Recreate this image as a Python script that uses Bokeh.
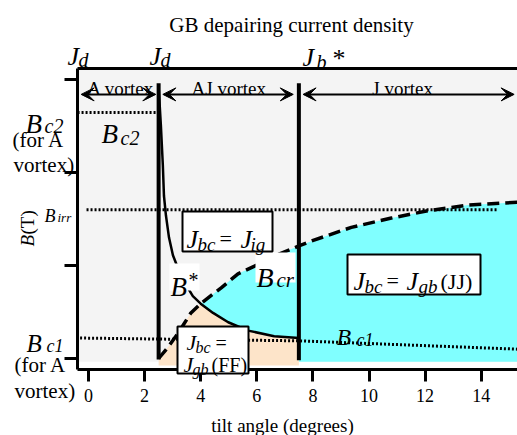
import numpy as np
from bokeh.plotting import figure
from bokeh.models import (Label, Arrow, VeeHead, BoxAnnotation, LinearAxis,
                          FixedTicker, CustomJSTickFormatter)
from bokeh.embed import file_html
from bokeh.resources import INLINE

# ---------------- data ----------------
xticks = [0, 2, 4, 6, 8, 10, 12, 14]
yticks = [0, 1, 2, 3]
boundaries = [2.5, 7.5]            # A/AJ and AJ/J vortex boundaries (degrees)
boundary_top = [2.96, 2.96]
regions = ["A vortex", "AJ vortex", "J vortex"]
region_center = [1.15, 5.0, 11.2]

# B* curve
bstar_x = [2.5, 2.58, 2.65, 2.69, 2.76, 2.87, 3.01, 3.19, 3.44, 3.72, 4.0,
           4.44, 4.98, 5.69, 6.62, 7.5]
bstar_y = [2.92, 2.51, 2.08, 1.75, 1.54, 1.30, 1.11, 0.97, 0.81, 0.67, 0.59,
           0.49, 0.39, 0.30, 0.24, 0.22]
# B_cr curve (dashed)
bcr_x = [2.5, 2.83, 3.19, 3.65, 4.0, 4.73, 5.33, 5.9, 6.69, 7.5, 8.01, 9.37,
         10.8, 12.12, 13.54, 15.33]
bcr_y = [0.0, 0.12, 0.27, 0.49, 0.59, 0.76, 0.91, 0.99, 1.11, 1.21, 1.27, 1.41,
         1.51, 1.59, 1.65, 1.68]
# dotted levels
bc1_x = [-0.3, 7.5, 15.33]
bc1_y = [0.22, 0.19, 0.10]
bc2_x = [-0.39, 2.45]
bc2_y = [2.645, 2.645]
birr_x = [-0.07, 14.6]
birr_y = [1.60, 1.60]
cyan_floor = -0.035
peach_floor = -0.075
arrow_level = 2.84

# plot-area extent (axes) and whole-canvas ranges
AX_X = (-0.392, 15.294)
AX_Y = (-0.118, 3.118)
X0, SX, Y0, SY = 88.0, 28.05, 358.0, 93.0
W, H = 517, 435
X_RANGE = (-X0 / SX, (W - X0) / SX)
Y_RANGE = ((Y0 - H) / SY, Y0 / SY)

SERIF = "Liberation Serif"

p = figure(width=W, height=H, x_range=X_RANGE, y_range=Y_RANGE,
           output_backend="svg", toolbar_location=None,
           min_border_left=0, min_border_right=0, min_border_top=0,
           min_border_bottom=0)
p.background_fill_color = "white"
p.border_fill_color = "white"
p.outline_line_color = None
p.grid.visible = False

# axes (placed inside the canvas at the plot-area edges)
p.xaxis.ticker = FixedTicker(ticks=xticks)
p.yaxis.ticker = FixedTicker(ticks=yticks)
p.xaxis.fixed_location = AX_Y[0]
p.xaxis.bounds = AX_X
p.yaxis.fixed_location = AX_X[0]
p.yaxis.bounds = AX_Y
for ax in (p.xaxis, p.yaxis):
    ax.axis_line_width = 3
    ax.axis_line_color = "black"
    ax.major_tick_line_width = 3
    ax.major_tick_in = 0
    ax.minor_tick_line_color = None
p.xaxis.major_tick_out = 12
p.yaxis.major_tick_out = 13
p.xaxis.major_label_text_font = SERIF
p.xaxis.major_label_text_font_size = "18px"
p.xaxis.major_label_text_color = "black"
p.xaxis.major_label_standoff = 8
p.yaxis.formatter = CustomJSTickFormatter(code="return ''")
top_axis = LinearAxis(ticker=FixedTicker(ticks=[]), axis_line_width=3,
                      fixed_location=AX_Y[1], bounds=AX_X,
                      formatter=CustomJSTickFormatter(code="return ''"))
top_axis.minor_tick_line_color = None
top_axis.major_tick_line_color = None
p.add_layout(top_axis, "above")

# grey plot area
p.add_layout(BoxAnnotation(left=AX_X[0], right=AX_X[1], bottom=cyan_floor,
                           top=AX_Y[1], fill_color="#f4f4f4", fill_alpha=1,
                           line_color=None, level="underlay"))

# ---------------- fills ----------------
k = bstar_x.index(4.0)
j = bcr_x.index(4.0)
peach_x = [bcr_x[0]] + bcr_x[:j + 1] + bstar_x[k + 1:] + [bstar_x[-1]]
peach_y = [peach_floor] + bcr_y[:j + 1] + bstar_y[k + 1:] + [peach_floor]
p.patch(peach_x, peach_y, fill_color="#fde4c9", line_color=None)

cyan_x = bcr_x[j:] + [bcr_x[-1], boundaries[1]] + bstar_x[k:][::-1]
cyan_y = bcr_y[j:] + [cyan_floor, cyan_floor] + bstar_y[k:][::-1]
p.patch(cyan_x, cyan_y, fill_color="#80ffff", line_color=None)

# ---------------- lines ----------------
for xs, ys in ((bc2_x, bc2_y), (birr_x, birr_y), (bc1_x, bc1_y)):
    p.line(xs, ys, line_color="black", line_width=3, line_dash="2 2")
p.line(bstar_x, bstar_y, line_color="black", line_width=2.5)
p.line(bcr_x, bcr_y, line_color="black", line_width=3.5, line_dash="12 6")
p.segment(x0=boundaries, y0=[-0.01, -0.02], x1=boundaries, y1=boundary_top,
          line_color="black", line_width=4)

# arrows
edges = [AX_X[0]] + boundaries + [AX_X[1]]
gaps = [(0.13, 0.1), (0.15, 0.2), (0.15, 0.12)]
for i in range(3):
    lo = edges[i] + gaps[i][0]
    hi = edges[i + 1] - gaps[i][1]
    p.add_layout(Arrow(x_start=lo, y_start=arrow_level, x_end=hi, y_end=arrow_level,
                       line_width=2, line_color="black",
                       start=VeeHead(size=13, fill_color="black", line_color="black"),
                       end=VeeHead(size=13, fill_color="black", line_color="black")))


# ---------------- annotations ----------------
def px(v):
    return (v - X0) / SX


def py(v):
    return (Y0 - v) / SY


def box(l, r, t, b, border=True):
    p.add_layout(BoxAnnotation(left=px(l), right=px(r), top=py(t), bottom=py(b),
                               fill_color="white", fill_alpha=1,
                               line_color="black" if border else None,
                               line_width=2, line_alpha=1))


def lab(xp, yp, text, size, style="normal", align="left", angle=0.0,
        baseline="alphabetic"):
    p.add_layout(Label(x=px(xp), y=py(yp), text=text, text_font=SERIF,
                       text_font_size=f"{size}px", text_font_style=style,
                       text_align=align, text_baseline=baseline,
                       text_color="black", angle=angle))


for name, cx in zip(regions, region_center):
    p.add_layout(Label(x=cx, y=py(87.5), text=name, text_font=SERIF,
                       text_font_size="19px", text_align="center",
                       text_baseline="alphabetic", text_color="black"))

# title and top labels
lab(291, 24, "GB depairing current density", 21, align="center")
lab(67, 56, "J", 26, "italic"); lab(78, 59, "d", 20, "italic")
lab(149, 56, "J", 26, "italic"); lab(160, 59, "d", 20, "italic")
lab(302, 57, "J", 26, "italic"); lab(316, 61, "b", 20, "italic")
lab(332, 58, "*", 26)

# left labels
lab(25, 123, "B", 27, "italic"); lab(44, 125, "c2", 20, "italic")
lab(12, 139, "(for A", 21); lab(13, 164, "vortex)", 21)
lab(44, 215, "B", 18, "italic"); lab(57, 217, "irr", 13, "italic")
lab(26, 343, "B", 25, "italic"); lab(46, 345, "c1", 18, "italic")
lab(14, 364, "(for A", 21); lab(14, 390, "vortex)", 21)
lab(27, 246, "B", 19, "italic", angle=np.pi / 2, baseline="middle")
lab(27, 234, "(T)", 19, angle=np.pi / 2, baseline="middle")
lab(282, 425, "tilt angle (degrees)", 19, align="center")

# inside labels
lab(101, 133, "B", 27, "italic"); lab(120, 137, "c2", 20, "italic")
lab(336, 336, "B", 24, "italic"); lab(356, 339, "c1", 18, "italic")

box(169, 199, 263, 290, border=False)
lab(170, 286, "B", 27, "italic"); lab(188, 279, "*", 20)
box(255, 295, 252, 282, border=False)
lab(256, 277, "B", 28, "italic"); lab(276, 279, "cr", 21, "italic")

box(182, 272, 211, 251)
lab(186, 239, "J", 26, "italic"); lab(197, 244, "bc", 19, "italic")
lab(219, 238, "=", 22)
lab(240, 239, "J", 26, "italic"); lab(250, 244, "ig", 19, "italic")

box(347, 480, 254, 294)
lab(353, 281, "J", 26, "italic"); lab(364, 286, "bc", 19, "italic")
lab(386, 280, "=", 22)
lab(406, 281, "J", 26, "italic"); lab(418, 286, "gb", 19, "italic")
lab(440, 281, "(JJ)", 22)

box(177, 248, 326, 373)
lab(186, 342, "J", 22, "italic"); lab(195, 347, "bc", 16, "italic")
lab(215, 342, "=", 20)
lab(183, 364, "J", 22, "italic"); lab(192, 369, "gb", 16, "italic")
lab(211, 364, "(FF)", 20)

open("out.html", "w").write(file_html(p, INLINE))
